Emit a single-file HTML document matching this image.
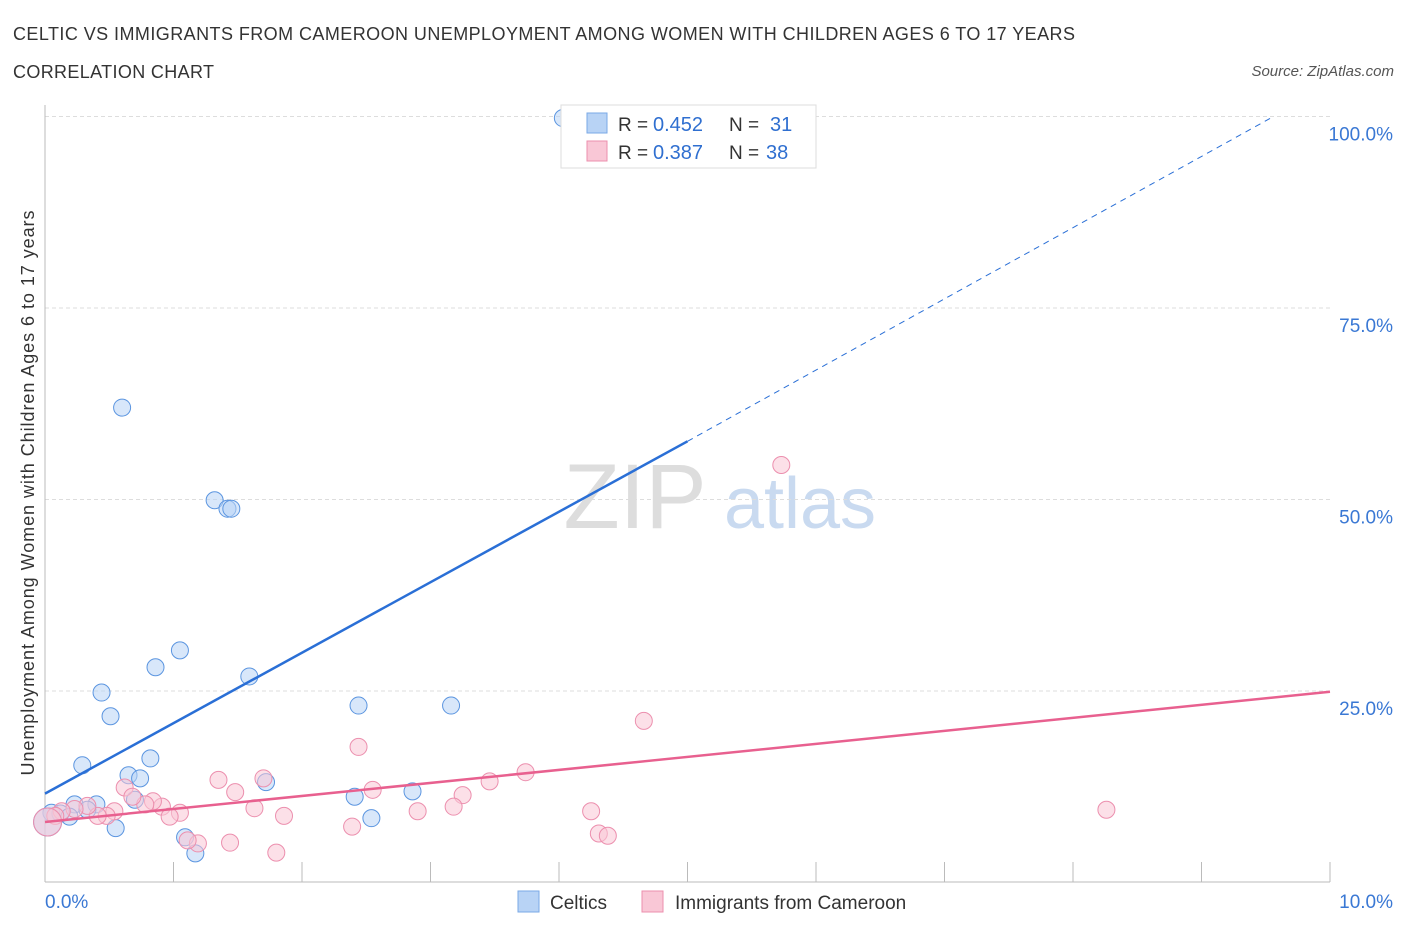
<!DOCTYPE html>
<html><head><meta charset="utf-8"><style>
body{margin:0;background:#fff;font-family:"Liberation Sans",sans-serif;}
svg text{font-family:"Liberation Sans",sans-serif;}
</style></head><body>
<svg id="chart" width="1406" height="930">
<text x="13" y="40" font-size="18" fill="#333" textLength="1062">CELTIC VS IMMIGRANTS FROM CAMEROON UNEMPLOYMENT AMONG WOMEN WITH CHILDREN AGES 6 TO 17 YEARS</text>
<text x="13" y="78" font-size="18" fill="#333" textLength="201">CORRELATION CHART</text>
<text x="1394" y="76" font-size="15" fill="#555" font-style="italic" text-anchor="end">Source: ZipAtlas.com</text>
<text x="635" y="528" font-size="92" fill="#ddd" font-family="Liberation Serif" text-anchor="middle">ZIP</text>
<text x="800" y="528" font-size="72" fill="#c9daf0" text-anchor="middle">atlas</text>
<g id="grid"></g>
<g id="axes"></g>
<g id="marks"></g>
<text x="34" y="493" font-size="18" fill="#333" text-anchor="middle" textLength="565" transform="rotate(-90 34 493)">Unemployment Among Women with Children Ages 6 to 17 years</text>
<g>
<rect x="561" y="105" width="255" height="63" fill="#fff" stroke="#ddd"/>
<rect x="587" y="113" width="20" height="20" fill="#b8d3f5" stroke="#7aa8e6"/>
<text x="618" y="131" font-size="19" fill="#333">R =</text><text x="653" y="131" font-size="20" fill="#2f6fd0">0.452</text>
<text x="729" y="131" font-size="19" fill="#333">N =</text><text x="770" y="131" font-size="20" fill="#2f6fd0">31</text>
<rect x="587" y="141" width="20" height="20" fill="#f9c7d6" stroke="#ec8fae"/>
<text x="618" y="159" font-size="19" fill="#333">R =</text><text x="653" y="159" font-size="20" fill="#2f6fd0">0.387</text>
<text x="729" y="159" font-size="19" fill="#333">N =</text><text x="766" y="159" font-size="20" fill="#2f6fd0">38</text>
</g>
<g>
<rect x="518" y="891" width="21" height="21" fill="#b8d3f5" stroke="#7aa8e6"/>
<text x="550" y="909" font-size="19" fill="#333">Celtics</text>
<rect x="642" y="891" width="21" height="21" fill="#f9c7d6" stroke="#ec8fae"/>
<text x="675" y="909" font-size="19" fill="#333">Immigrants from Cameroon</text>
</g>
</svg>
<script>
const xTicks=[0,1,2,3,4,5,6,7,8,9,10];
const yTicks=[25,50,75,100];
const celticX=[4.03,0.60,1.32,1.42,1.45,1.05,0.86,1.59,0.44,0.51,2.44,3.16,0.82,0.29,0.65,0.74,1.72,2.41,2.86,0.70,0.40,0.23,0.05,0.12,0.19,0.55,2.54,1.09,1.17,0.02,0.33];
const celticY=[99.8,62.0,49.9,48.8,48.8,30.3,28.1,26.9,24.8,21.7,23.1,23.1,16.2,15.3,14.0,13.6,13.1,11.2,11.9,10.8,10.2,10.2,9.1,9.0,8.6,7.1,8.4,5.9,3.8,7.9,9.5];
const camX=[5.73,4.66,2.44,8.26,3.74,3.46,3.25,3.18,2.90,4.25,4.31,4.38,2.39,2.55,1.70,1.35,1.48,1.63,1.86,1.80,1.44,1.19,1.11,1.05,0.91,0.84,0.78,0.62,0.68,0.54,0.48,0.41,0.33,0.23,0.13,0.08,0.02,0.97];
const camY=[54.5,21.1,17.7,9.5,14.4,13.2,11.4,9.9,9.3,9.3,6.4,6.1,7.3,12.1,13.6,13.4,11.8,9.7,8.7,3.9,5.2,5.1,5.5,9.1,9.9,10.6,10.2,12.4,11.2,9.3,8.7,8.7,10.0,9.6,9.3,8.7,7.9,8.6];
const celticTrend=[11.6,57.6]; // y at x=0, x=5
const celticTrendEnd=[9.55,99.9];
const camTrend=[7.9,24.9]; // y at x=0, x=10
const X=v=>45+v/10*1285, Y=v=>882.5-v/100*766;
const NS='http://www.w3.org/2000/svg';
function mk(t,a,p){const e=document.createElementNS(NS,t);for(const k in a)e.setAttribute(k,a[k]);document.getElementById(p).appendChild(e);return e;}
yTicks.forEach(v=>{
const l=mk('line',{x1:45,x2:1330,y1:Y(v),y2:Y(v),stroke:'#ddd','stroke-dasharray':'4,3'},'grid');


const t=mk('text',{x:1393,y:Y(v)+24,'font-size':19,fill:'#3a78d4','text-anchor':'end'},'axes');t.textContent=v.toFixed(1)+'%';


});
mk('line',{x1:45,x2:45,y1:105,y2:882,stroke:'#bbb'},'axes');
mk('line',{x1:45,x2:1330,y1:882,y2:882,stroke:'#bbb'},'axes');
xTicks.forEach(v=>{if(v>0){const l=mk('line',{x1:X(v),x2:X(v),y1:862,y2:882,stroke:'#bbb'},'axes');

}});
[[0,'start',45],[10,'end',1393]].forEach(([v,a,x])=>{const t=mk('text',{x:x,y:908,'font-size':19,fill:'#3a78d4','text-anchor':a},'axes');t.textContent=v.toFixed(1)+'%';

});
function pts(xs,ys,fill,stroke,name){xs.forEach((x,i)=>{const big=(x<0.03);const c=mk('circle',{cx:X(x),cy:Y(ys[i]),r:big?14:8.5,fill:fill,'fill-opacity':0.55,stroke:stroke,'stroke-width':1},'marks');

});}
pts(celticX,celticY,'#b8d3f5','#5b95e0','celtic-point');
pts(camX,camY,'#f9c7d6','#ec8fae','cameroon-point');
let l=mk('line',{x1:X(0),y1:Y(celticTrend[0]),x2:X(5),y2:Y(celticTrend[1]),stroke:'#2a6fd6','stroke-width':2.5},'marks');


l=mk('line',{x1:X(5),y1:Y(celticTrend[1]),x2:X(celticTrendEnd[0]),y2:Y(celticTrendEnd[1]),stroke:'#2a6fd6','stroke-width':1,'stroke-dasharray':'6,5'},'marks');


l=mk('line',{x1:X(0),y1:Y(camTrend[0]),x2:X(10),y2:Y(camTrend[1]),stroke:'#e8608f','stroke-width':2.5},'marks');


</script>
</body></html>
